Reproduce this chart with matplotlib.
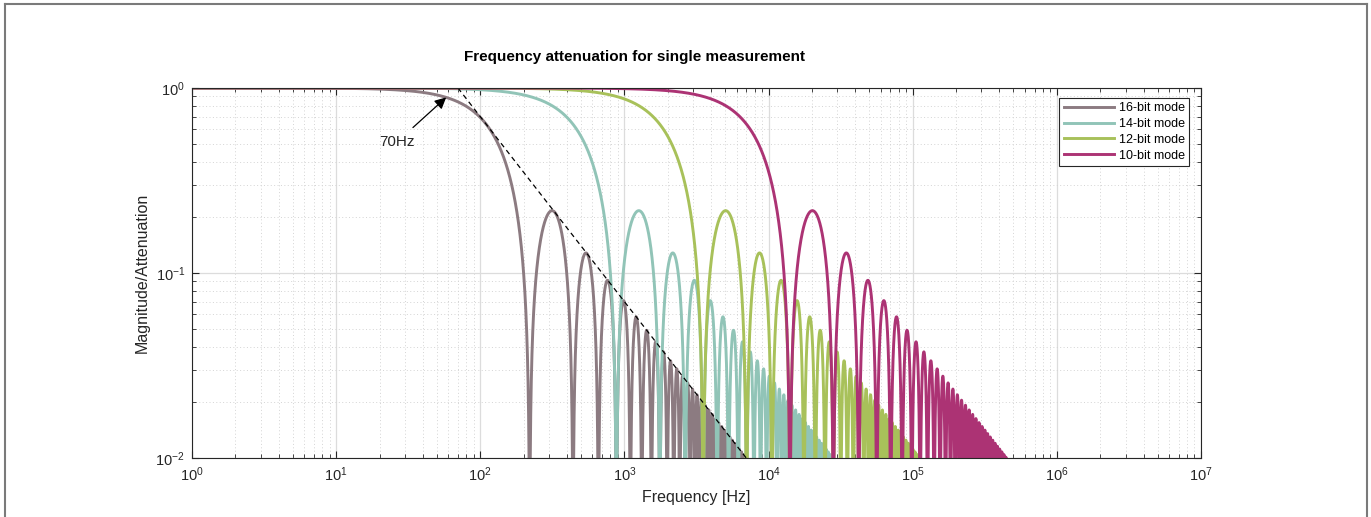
import numpy as np
import matplotlib
matplotlib.use("Agg")
import matplotlib.pyplot as plt
from matplotlib.lines import Line2D

plt.rcParams['font.family'] = ['Liberation Sans', 'DejaVu Sans']
plt.rcParams['mathtext.fontset'] = 'custom'
plt.rcParams['mathtext.rm'] = 'Liberation Sans'
plt.rcParams['mathtext.it'] = 'Liberation Sans:italic'
plt.rcParams['mathtext.bf'] = 'Liberation Sans:bold'
plt.rcParams['axes.unicode_minus'] = False

# ---- data ----
modes = ["16-bit mode", "14-bit mode", "12-bit mode", "10-bit mode"]
first_null_hz = [220.0, 880.0, 3520.0, 14080.0]   # first zero of each sinc response
colors = ["#8c7b81", "#91c4b7", "#a8c15a", "#ac3374"]
corner_hz = 70.0            # asymptote crossing of the 16-bit response
asym_end_hz = 7000.0
annot_hz = 58.0
xlim = (1e0, 1e7)
ylim = (1e-2, 1e0)

W, H = 1371, 517
fig = plt.figure(figsize=(W / 100, H / 100), dpi=100)
ax = fig.add_axes([192 / W, (H - 458) / H, (1201 - 192) / W, (458 - 88) / H])

f = np.logspace(0, 7, 400000)
for name, f0, c in zip(modes, first_null_hz, colors):
    mag = np.abs(np.sinc(f / f0))
    mag = np.maximum(mag, 1e-6)
    ax.plot(f, mag, color=c, lw=2.1, label=name)

# asymptote 1/(f/corner)
fa = np.array([corner_hz, asym_end_hz])
ax.plot(fa, corner_hz / fa, color='black', lw=0.9, ls=(0, (4, 3)))

ax.set_xscale('log')
ax.set_yscale('log')
ax.set_xlim(*xlim)
ax.set_ylim(*ylim)

ya = np.abs(np.sinc(annot_hz / first_null_hz[0]))
ax.annotate("70Hz", xy=(annot_hz, ya), xytext=(397 - 192, 458 - 142),
            textcoords=('axes pixels'), fontsize=11, ha='center', va='center',
            color='#262626',
            arrowprops=dict(arrowstyle='-|>', color='black', lw=0.9,
                            mutation_scale=17, shrinkA=5, shrinkB=0))

ax.grid(True, which='major', color='#dcdcdc', lw=0.9, ls='-')
ax.grid(True, which='minor', color='#d4d4d4', lw=0.7, ls=(0, (1, 2.5)))
ax.set_axisbelow(True)

ax.tick_params(which='both', direction='in', top=True, right=True,
               colors='#262626', labelsize=10.5)
ax.tick_params(which='major', length=5, width=0.8, pad=5)
ax.tick_params(which='minor', length=3, width=0.6)
ax.set_xticks([10.0 ** k for k in range(0, 8)])
ax.set_yticks([1e-2, 1e-1, 1e0])
for s in ax.spines.values():
    s.set_color('#262626')
    s.set_linewidth(0.8)

ax.set_xlabel("Frequency [Hz]", fontsize=11.5, color='#262626', labelpad=5)
ax.set_ylabel("Magnitude/Attenuation", fontsize=11.5, color='#262626', labelpad=4)
fig.text(635 / W, 1 - 57 / H, "Frequency attenuation for single measurement",
         fontsize=11, fontweight='bold', ha='center', va='center')

leg = ax.legend(loc='upper right', bbox_to_anchor=(0.988, 0.973), borderaxespad=0,
                fontsize=9, handlelength=4.0, labelspacing=0.3, borderpad=0.35,
                handletextpad=0.4, fancybox=False, framealpha=1, edgecolor='#262626')
leg.get_frame().set_linewidth(0.8)

# outer frame of the figure
for xs, ys in [((5 / W, 5 / W), (-0.1, 1 - 4 / H)),
               ((5 / W, 1367 / W), (1 - 4 / H, 1 - 4 / H)),
               ((1367 / W, 1367 / W), (-0.1, 1 - 4 / H))]:
    fig.add_artist(Line2D(xs, ys, transform=fig.transFigure, color='#7a7a7a', lw=1.5))

fig.savefig("out.png", dpi=100)
